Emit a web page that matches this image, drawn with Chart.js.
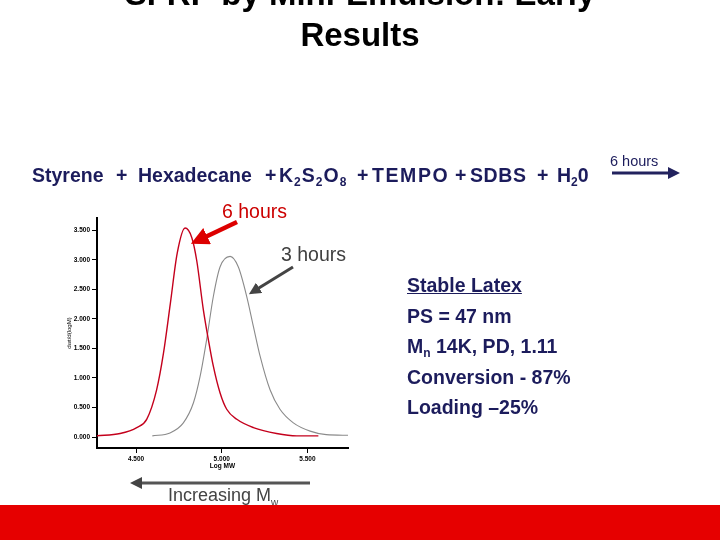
<!DOCTYPE html>
<html>
<head>
<meta charset="utf-8">
<script src="https://cdn.jsdelivr.net/npm/chart.js@4.4.1/dist/chart.umd.min.js"></script>
<style>
  body { margin: 0; width: 720px; height: 540px; overflow: hidden; background: #fff; position: relative; font-family: "Liberation Sans", Arial, sans-serif; }
  #chart { position: absolute; left: 0; top: 0; }
  .t { position: absolute; white-space: nowrap; }
  #title { left: 0; width: 720px; top: -27px; text-align: center; font-weight: bold; font-size: 33px; line-height: 41px; color: #000; }
  .eq { top: 164px; font-weight: bold; font-size: 19.5px; color: #1c1c5c; }
  .eq sub { font-size: 12px; vertical-align: -4px; line-height: 0; }
  #hrs6top { left: 610px; top: 153px; font-size: 14.5px; color: #1c1c5c; }
  #red6 { left: 222px; top: 200px; font-size: 19.5px; color: #cc0000; }
  #gray3 { left: 281px; top: 243px; font-size: 19.5px; color: #404040; }
  #info { left: 407px; top: 270px; font-weight: bold; font-size: 19.5px; line-height: 30.5px; color: #1c1c5c; }
  #info sub { font-size: 12px; vertical-align: -4px; line-height: 0; }
  #incr { left: 168px; top: 485px; font-size: 18px; color: #444; }
  #incr sub { font-size: 10px; vertical-align: -5px; line-height: 0; }
  #bar { position: absolute; left: 0; top: 505px; width: 720px; height: 35px; background: #e60000; }
  svg { position: absolute; left: 0; top: 0; }
</style>
</head>
<body>
<canvas id="chart" width="720" height="540"></canvas>

<div class="t" id="title">SFRP by Mini-Emulsion: Early<br>Results</div>

<div class="t eq" style="left:32px">Styrene</div>
<div class="t eq" style="left:116px">+</div>
<div class="t eq" style="left:138px">Hexadecane</div>
<div class="t eq" style="left:265px">+</div>
<div class="t eq" style="left:279px;letter-spacing:1px">K<sub>2</sub>S<sub>2</sub>O<sub>8</sub></div>
<div class="t eq" style="left:357px">+</div>
<div class="t eq" style="left:372px;letter-spacing:1.6px">TEMPO</div>
<div class="t eq" style="left:455px">+</div>
<div class="t eq" style="left:470px;letter-spacing:0.6px">SDBS</div>
<div class="t eq" style="left:537px">+</div>
<div class="t eq" style="left:557px">H<sub>2</sub>0</div>

<div class="t" id="hrs6top">6 hours</div>
<div class="t" id="red6">6 hours</div>
<div class="t" id="gray3">3 hours</div>
<div class="t" id="info"><u>Stable Latex</u><br>PS = 47 nm<br>M<sub>n</sub> 14K, PD, 1.11<br>Conversion - 87%<br>Loading –25%</div>
<div class="t" id="incr">Increasing M<sub>w</sub></div>
<div id="bar"></div>

<svg width="720" height="540">
  <defs>
    <marker id="hr" markerWidth="4" markerHeight="4" refX="2" refY="2" orient="auto"><path d="M0,0 L4,2 L0,4 z" fill="#dd0000"/></marker>
    <marker id="hg" markerWidth="4" markerHeight="4" refX="2" refY="2" orient="auto"><path d="M0,0 L4,2 L0,4 z" fill="#444"/></marker>
    <marker id="hn" markerWidth="4" markerHeight="4" refX="2" refY="2" orient="auto"><path d="M0,0 L4,2 L0,4 z" fill="#22225e"/></marker>
  </defs>
  <line x1="237" y1="222" x2="199" y2="240" stroke="#dd0000" stroke-width="4.5" marker-end="url(#hr)"/>
  <line x1="293" y1="267" x2="254" y2="291" stroke="#444" stroke-width="3" marker-end="url(#hg)"/>
  <line x1="310" y1="483" x2="136" y2="483" stroke="#555" stroke-width="3" marker-end="url(#hg)"/>
  <line x1="612" y1="173" x2="674" y2="173" stroke="#22225e" stroke-width="3" marker-end="url(#hn)"/>
</svg>

<script>
// 6 hours sample (red)
const redLogM = [4.27, 4.407, 4.504, 4.562, 4.62, 4.66, 4.70, 4.74, 4.786, 4.825, 4.854, 4.893, 4.922, 4.951, 4.99, 5.029, 5.088, 5.185, 5.32, 5.438, 5.564];
const redVals = [0.02, 0.06, 0.16, 0.30, 0.80, 1.42, 2.26, 3.11, 3.54, 3.38, 2.99, 2.15, 1.65, 1.20, 0.75, 0.47, 0.30, 0.16, 0.06, 0.02, 0.02];

// 3 hours sample (gray)
const grayLogM = [4.595, 4.698, 4.776, 4.835, 4.874, 4.912, 4.951, 4.99, 5.049, 5.097, 5.146, 5.185, 5.224, 5.282, 5.34, 5.418, 5.516, 5.61, 5.74];
const grayVals = [0.02, 0.07, 0.24, 0.58, 1.03, 1.65, 2.38, 2.88, 3.06, 2.88, 2.38, 1.87, 1.37, 0.80, 0.47, 0.24, 0.10, 0.04, 0.03];

const xTicks = [4.5, 5.0, 5.5];
const yTicks = [0, 0.5, 1.0, 1.5, 2.0, 2.5, 3.0, 3.5];

function toPoints(xs, ys) {
  return xs.map((x, i) => ({ x: x, y: ys[i] }));
}

const tickFont = { family: "Liberation Sans", size: 6.5, weight: "bold" };

const config = {
  type: 'scatter',
  data: {
    datasets: [
      {
        label: '6 hours',
        data: toPoints(redLogM, redVals),
        showLine: true,
        borderColor: '#c4001c',
        borderWidth: 1.4,
        pointRadius: 0,
        cubicInterpolationMode: 'monotone'
      },
      {
        label: '3 hours',
        data: toPoints(grayLogM, grayVals),
        showLine: true,
        borderColor: '#8a8a8a',
        borderWidth: 1.1,
        pointRadius: 0,
        cubicInterpolationMode: 'monotone'
      }
    ]
  },
  options: {
    responsive: false,
    animation: false,
    layout: {
      padding: { top: 218, left: 60, right: 372, bottom: 70 }
    },
    plugins: {
      legend: { display: false },
      tooltip: { enabled: false }
    },
    scales: {
      x: {
        type: 'linear',
        min: 4.272,
        max: 5.737,
        afterBuildTicks: (s) => { s.ticks = xTicks.map(v => ({ value: v })); },
        afterFit: (s) => { s.height = 22; },
        ticks: {
          font: tickFont,
          color: '#000',
          padding: 2,
          maxRotation: 0,
          callback: (v) => Number(v).toFixed(3)
        },
        grid: { drawOnChartArea: false, tickLength: 5, color: '#000', lineWidth: 1 },
        border: { color: '#000', width: 2 },
        title: { display: true, text: 'Log MW', font: tickFont, color: '#000', padding: 0 }
      },
      y: {
        min: -0.186,
        max: 3.71,
        afterBuildTicks: (s) => { s.ticks = yTicks.map(v => ({ value: v })); },
        afterFit: (s) => { s.width = 37; },
        ticks: {
          font: tickFont,
          color: '#000',
          padding: 2,
          callback: (v) => Number(v).toFixed(3)
        },
        grid: { drawOnChartArea: false, tickLength: 5, color: '#000', lineWidth: 1 },
        border: { color: '#000', width: 2 },
        title: { display: true, text: 'dwt/d(logM)', font: { family: "Liberation Sans", size: 6 }, color: '#000', padding: { top: 6, bottom: 0 } }
      }
    }
  }
};

const myChart = new Chart(document.getElementById('chart').getContext('2d'), config);
</script>
</body>
</html>
